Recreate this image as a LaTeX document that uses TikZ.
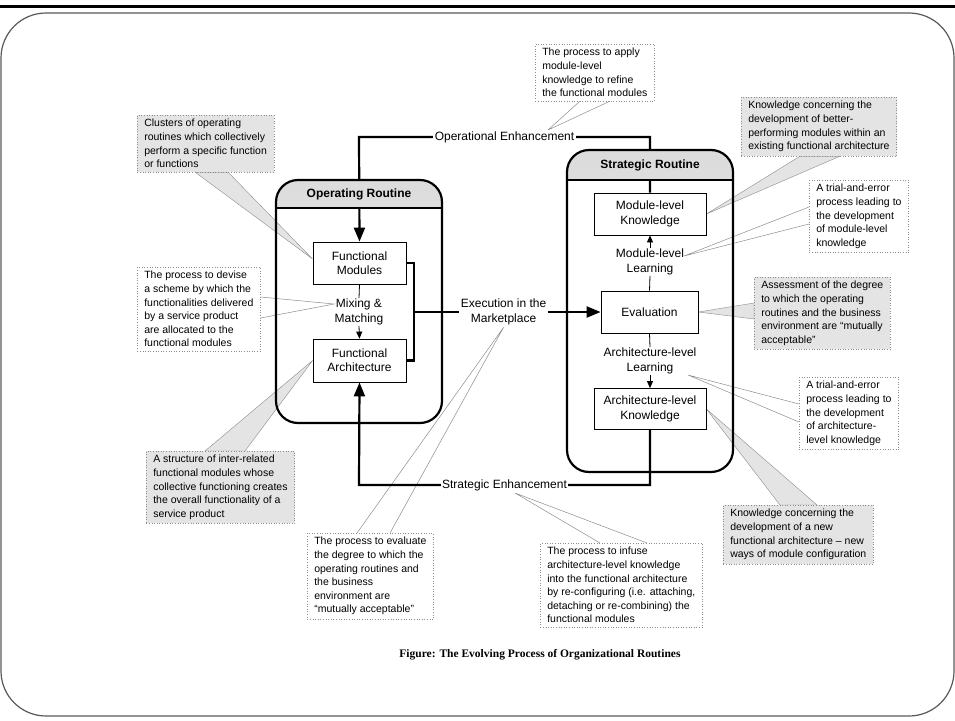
\documentclass[tikz,border=0pt]{standalone}
\usepackage{fontspec}
\setmainfont{Liberation Sans}
\newfontfamily\capfont{Liberation Serif}
\usetikzlibrary{arrows.meta,calc}
\pgfdeclarelayer{wedges}
\pgfdeclarelayer{links}
\pgfdeclarelayer{frames}
\pgfsetlayers{wedges,links,frames,main}
\definecolor{notegray}{HTML}{E4E4E4}
\definecolor{edgegray}{HTML}{8C8C8C}

\begin{document}
\begin{tikzpicture}[x=1pt,y=-1pt,
  box/.style={draw,fill=white,line width=0.8pt,minimum height=42pt,align=center,
    font=\fontsize{12}{14.3}\selectfont},
  lbl/.style={align=center,inner sep=1pt,font=\fontsize{12}{14.3}\selectfont},
  onpath/.style={fill=white,inner sep=1.5pt,font=\fontsize{12}{14.3}\selectfont,align=center},
  rtn/.style={line width=2.2pt,rounded corners=22pt},
  conn/.style={line width=2.2pt},
  big/.style={-{Triangle[length=14pt,width=11pt]}},
  small/.style={line width=0.8pt,-{Triangle[length=7pt,width=6pt]}},
  note/.style={draw=edgegray,dotted,line width=0.6pt,fill=white,anchor=north west,align=left,
    inner xsep=7pt,inner ysep=4pt,font=\fontsize{10.5}{13.6}\selectfont},
  gnote/.style={note,fill=notegray},
  gwedge/.style={fill=notegray,draw=edgegray,line width=0.4pt},
  wline/.style={draw=edgegray,line width=0.5pt}]
\useasboundingbox (0,0) rectangle (955,720);

% page frame
\draw[line width=3pt] (0,6) -- (955,6);
\draw[line width=1.2pt,gray!70!black,rounded corners=45pt] (1,13) rectangle (954,716);

% operating routine
\node[box,minimum width=93pt] (fm) at (359.5,263) {Functional\\Modules};
\node[lbl] (mix) at (359,312) {Mixing \&\\Matching};
\node[box,minimum width=93pt,minimum height=43pt] (fa) at (359.5,360.5) {Functional\\Architecture};

% strategic routine
\node[box,minimum width=112pt] (mk) at (650,214) {Module-level\\Knowledge};
\node[lbl] (ml) at (650,262) {Module-level\\Learning};
\node[box,minimum width=97pt] (ev) at (649.5,312) {Evaluation};
\node[lbl] (al) at (650,361) {Architecture-level\\Learning};
\node[box,minimum width=112pt,minimum height=41pt] (ak) at (650,409) {Architecture-level\\Knowledge};

\begin{pgfonlayer}{frames}
\begin{scope}
\clip (276,180) rectangle (442,208);
\fill[rounded corners=22pt,top color=gray!28,bottom color=gray!8] (276,180) rectangle (442,423);
\end{scope}
\draw[rtn] (276,180) rectangle (442,423);
\draw[line width=1.6pt] (276,208) -- (442,208);
\node[font=\bfseries\fontsize{12}{14}\selectfont] (ort) at (359,194) {Operating Routine};
\begin{scope}
\clip (567,150) rectangle (733,180);
\fill[rounded corners=22pt,top color=gray!28,bottom color=gray!8] (567,150) rectangle (733,472);
\end{scope}
\draw[rtn] (567,150) rectangle (733,472);
\draw[line width=1.6pt] (567,180) -- (733,180);
\node[font=\bfseries\fontsize{12}{14}\selectfont] (srt) at (650,165) {Strategic Routine};
\end{pgfonlayer}

% inner links
\draw[line width=0.8pt] (fm.south) -- (mix.north);
\draw[small] (mix.south) -- (fa.north);
\draw[line width=0.8pt] (ev.north) -- (ml.south);
\draw[small] (ml.north) -- (mk.south);
\draw[line width=0.8pt] (ev.south) -- (al.north);
\draw[small] (al.south) -- (ak.north);

% enhancement loops
\begin{pgfonlayer}{links}
\draw[conn,big] (mk.north) |- (359,137) node[onpath,pos=0.75] (oe) {Operational Enhancement} -- (fm.north);
\draw[conn,big] (ak.south) |- (359,485) node[onpath,pos=0.75] (se) {Strategic Enhancement} -- (fa.south);
\end{pgfonlayer}
\coordinate (jn) at (414,312);
\draw[conn] (fm.east) -| (jn) |- (fa.east);
\draw[conn,big] (jn) -- (ev.west) node[onpath,pos=0.48] (exe) {Execution in the\\Marketplace};

% callouts
\node[note] (c1) at (535,44) {The process to apply\\module-level\\knowledge to refine\\the functional modules};
\node[gnote] (c2) at (741,97) {Knowledge concerning the\\development of better-\\performing modules within an\\existing functional architecture};
\node[note] (c3) at (809,180) {A trial-and-error\\process leading to\\the development\\of module-level\\knowledge};
\node[gnote] (c4) at (137,115) {Clusters of operating\\routines which collectively\\perform a specific function\\or functions};
\node[note] (c5) at (137,267) {The process to devise\\a scheme by which the\\functionalities delivered\\by a service product\\are allocated to the\\functional modules};
\node[gnote] (c6) at (146,451) {A structure of inter-related\\functional modules whose\\collective functioning creates\\the overall functionality of a\\service product};
\node[gnote] (c7) at (754,277) {Assessment of the degree\\to which the operating\\routines and the business\\environment are “mutually\\acceptable”};
\node[note] (c8) at (799,377) {A trial-and-error\\process leading to\\the development\\of architecture-\\level knowledge};
\node[gnote] (c9) at (723,505) {Knowledge concerning the\\development of a new\\functional architecture – new\\ways of module configuration};
\node[note] (c10) at (307,533) {The process to evaluate\\the degree to which the\\operating routines and\\the business\\environment are\\“mutually acceptable”};
\node[note] (c11) at (540,543) {The process to infuse\\architecture-level knowledge\\into the functional architecture\\by re-configuring (i.e. attaching,\\detaching or re-combining) the\\functional modules};

\coordinate (t1) at (548,130);
\coordinate (t3) at (684,256);
\coordinate (t5) at (334,304);
\coordinate (t8) at (688,375);
\coordinate (t11) at (515,493);

\begin{pgfonlayer}{wedges}
\draw[wline] ($(c1.south west)+(45,0)$) -- (t1) -- ($(c1.south west)+(75,0)$);
\filldraw[gwedge] ($(c2.south west)+(59,0)$) -- (mk.east) -- ($(c2.south west)+(99,0)$) -- cycle;
\draw[wline] ($(c3.north west)+(0,27)$) -- (t3) -- ($(c3.north west)+(0,44)$);
\filldraw[gwedge] ($(c4.south west)+(58,0)$) -- ($(fm.west)+(0,-4)$) -- ($(c4.south west)+(91,0)$) -- cycle;
\draw[wline] ($(c5.north east)+(0,30)$) -- (t5) -- ($(c5.north east)+(0,51)$);
\filldraw[gwedge] ($(c6.north west)+(59,0)$) -- (fa.west) -- ($(c6.north west)+(99,0)$) -- cycle;
\filldraw[gwedge] ($(c7.north west)+(0,26)$) -- (ev.east) -- ($(c7.north west)+(0,42)$) -- cycle;
\draw[wline] ($(c8.north west)+(0,27)$) -- (t8) -- ($(c8.north west)+(0,45)$);
\filldraw[gwedge] ($(c9.north west)+(57,0)$) -- (ak.east) -- ($(c9.north west)+(94,0)$) -- cycle;
\draw[wline] ($(c10.north west)+(50,0)$) -- (exe.south) -- ($(c10.north west)+(83,0)$);
\draw[wline] ($(c11.north west)+(60,0)$) -- (t11) -- ($(c11.north west)+(107,0)$);
\end{pgfonlayer}

% caption
\node[font=\capfont\bfseries\fontsize{11.5}{13}\selectfont,anchor=east] (cap) at (684,655) {Figure: The Evolving Process of Organizational Routines};
\end{tikzpicture}
\end{document}
